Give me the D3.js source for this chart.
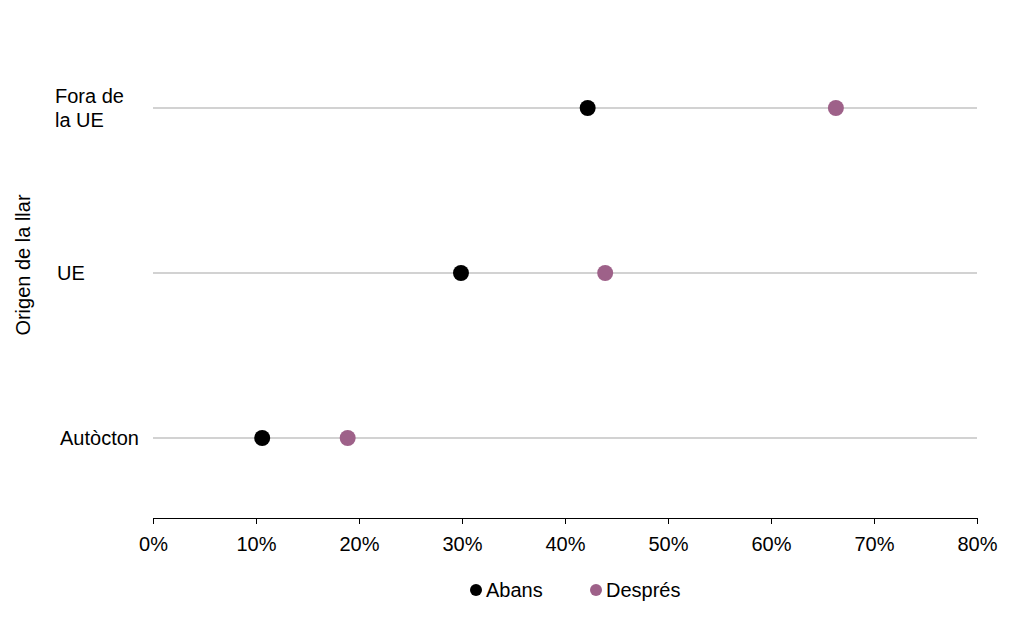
<!DOCTYPE html><html><head><meta charset="utf-8"><script src="https://cdn.jsdelivr.net/npm/d3@7"></script>
<style>body{margin:0;background:#fff}text{font-family:"Liberation Sans",Arial,sans-serif}</style></head><body>
<svg id="c" width="1024" height="629"></svg>
<script>
const categories=["Fora de la UE","UE","Autòcton"];
const abans=[42.2,29.9,10.6];
const despres=[66.3,43.9,18.9];
const ticks=[0,10,20,30,40,50,60,70,80];
const svg=d3.select("#c");
const x=d3.scaleLinear().domain([0,80]).range([153,977]);
const y=d3.scalePoint().domain(categories).range([108,438]);
const ax=svg.append("g").attr("transform","translate(0,518)").call(d3.axisBottom(x).tickValues(ticks).tickFormat(d=>d+"%").tickSize(6).tickSizeOuter(0));
ax.select(".domain").attr("stroke","#000");
ax.selectAll("text").attr("font-size",20).attr("fill","#000").attr("dy","1.2em");
categories.forEach((c,i)=>{
 svg.append("line").attr("x1",153).attr("x2",977).attr("y1",y(c)).attr("y2",y(c)).attr("stroke","#a6a6a6").attr("stroke-width",1.2);
});
svg.selectAll("circle.a").data(categories).enter().append("circle").attr("cx",(d,i)=>x(abans[i])).attr("cy",d=>y(d)).attr("r",8).attr("fill","#000");
svg.selectAll("circle.d").data(categories).enter().append("circle").attr("cx",(d,i)=>x(despres[i])).attr("cy",d=>y(d)).attr("r",8).attr("fill","#9e6189");
const lab=svg.append("g").attr("font-size",20);
lab.append("text").attr("x",55).attr("y",103).text("Fora de");
lab.append("text").attr("x",55).attr("y",127).text("la UE");
lab.append("text").attr("x",57).attr("y",280).text("UE");
lab.append("text").attr("x",60).attr("y",445).text("Autòcton");
svg.append("text").attr("transform","translate(30,265) rotate(-90)").attr("text-anchor","middle").attr("font-size",20).text("Origen de la llar");
const lg=svg.append("g").attr("font-size",20);
lg.append("circle").attr("cx",476).attr("cy",590).attr("r",6).attr("fill","#000");
lg.append("text").attr("x",486).attr("y",597).text("Abans");
lg.append("circle").attr("cx",596).attr("cy",590).attr("r",6).attr("fill","#9e6189");
lg.append("text").attr("x",606).attr("y",597).text("Després");
</script></body></html>
